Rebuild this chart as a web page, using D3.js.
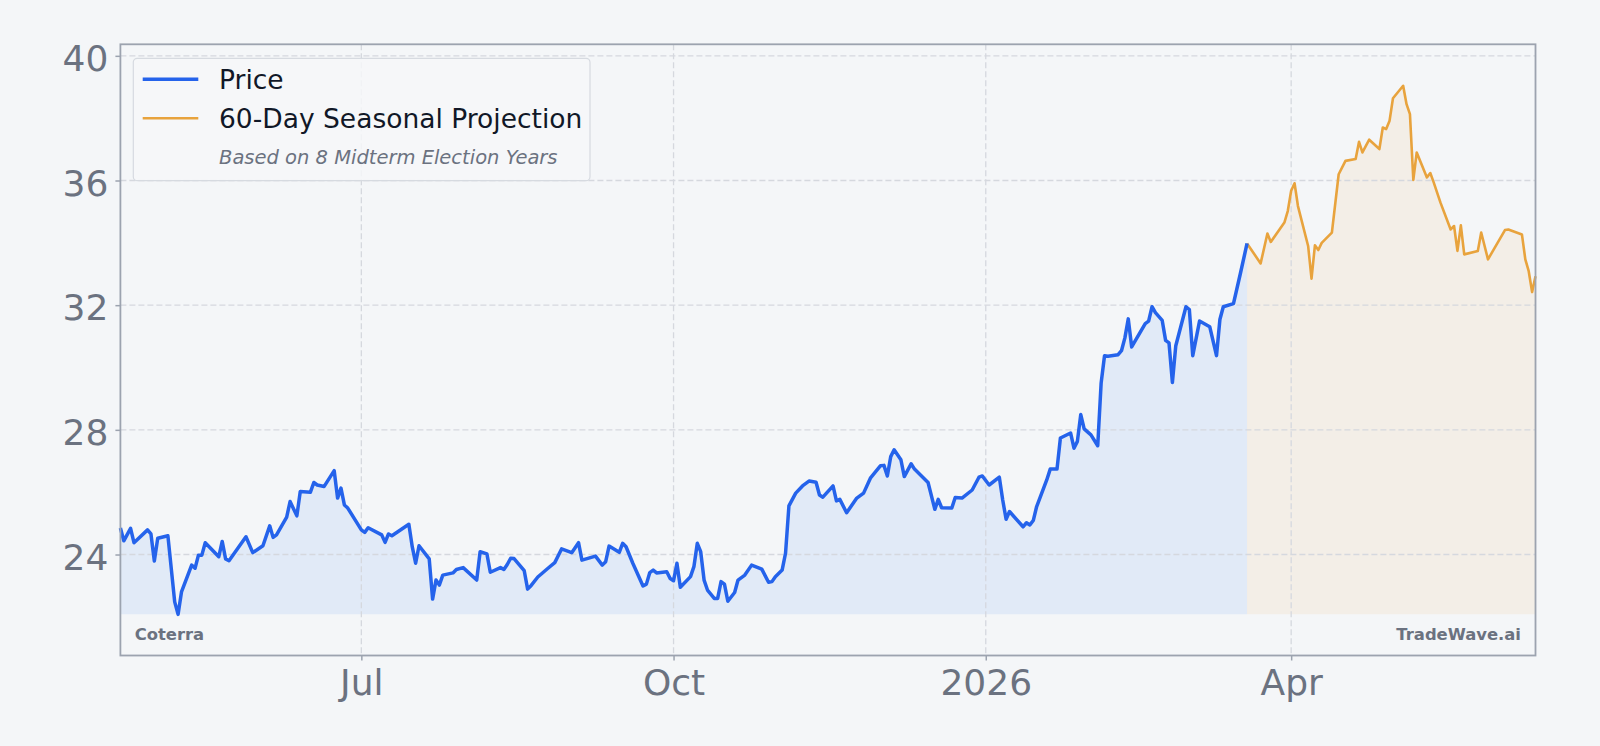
<!DOCTYPE html>
<html><head><meta charset="utf-8">
<script src="https://cdn.jsdelivr.net/npm/d3@7"></script>
<style>
html,body{margin:0;padding:0;background:#f4f6f8;}
svg{display:block;font-family:"DejaVu Sans",sans-serif;}
</style>
</head><body>
<svg id="chart" width="1600" height="746"></svg>
<script>
// ---------- DATA ----------
const priceDates = [
"2025-04-21","2025-04-22","2025-04-24","2025-04-25","2025-04-29","2025-04-30","2025-05-01","2025-05-02","2025-05-05","2025-05-07",
"2025-05-08","2025-05-09","2025-05-12","2025-05-13","2025-05-14","2025-05-15","2025-05-16","2025-05-20","2025-05-21","2025-05-22",
"2025-05-23","2025-05-28","2025-05-30","2025-06-02","2025-06-04","2025-06-05","2025-06-06","2025-06-09","2025-06-10","2025-06-12",
"2025-06-13","2025-06-16","2025-06-17","2025-06-18","2025-06-20","2025-06-23","2025-06-24","2025-06-25","2025-06-26","2025-06-27",
"2025-07-01","2025-07-02","2025-07-03","2025-07-07","2025-07-08","2025-07-09","2025-07-10","2025-07-15","2025-07-16","2025-07-17",
"2025-07-18","2025-07-21","2025-07-22","2025-07-23","2025-07-24","2025-07-25","2025-07-28","2025-07-29","2025-07-31","2025-08-04",
"2025-08-05","2025-08-07","2025-08-08","2025-08-11","2025-08-12","2025-08-13","2025-08-14","2025-08-15","2025-08-18","2025-08-19",
"2025-08-20","2025-08-22","2025-08-25","2025-08-27","2025-08-29","2025-09-01","2025-09-03","2025-09-04","2025-09-08","2025-09-10",
"2025-09-11","2025-09-12","2025-09-15","2025-09-16","2025-09-17","2025-09-19","2025-09-22","2025-09-23","2025-09-24","2025-09-25",
"2025-09-26","2025-09-29","2025-09-30","2025-10-01","2025-10-02","2025-10-03","2025-10-06","2025-10-07","2025-10-08","2025-10-09",
"2025-10-10","2025-10-11","2025-10-13","2025-10-14","2025-10-15","2025-10-16","2025-10-17","2025-10-19","2025-10-20","2025-10-22",
"2025-10-24","2025-10-27","2025-10-29","2025-10-30","2025-10-31","2025-11-02","2025-11-03","2025-11-04","2025-11-06","2025-11-08",
"2025-11-10","2025-11-12","2025-11-13","2025-11-14","2025-11-17","2025-11-18","2025-11-19","2025-11-21","2025-11-24","2025-11-26",
"2025-11-28","2025-12-01","2025-12-02","2025-12-03","2025-12-04","2025-12-05","2025-12-07","2025-12-08","2025-12-10","2025-12-11",
"2025-12-15","2025-12-17","2025-12-18","2025-12-19","2025-12-22","2025-12-23","2025-12-25","2025-12-28","2025-12-30","2025-12-31",
"2026-01-02","2026-01-05","2026-01-06","2026-01-07","2026-01-08","2026-01-12","2026-01-13","2026-01-14","2026-01-15","2026-01-16",
"2026-01-19","2026-01-20","2026-01-22","2026-01-23","2026-01-26","2026-01-27","2026-01-28","2026-01-29","2026-01-30","2026-02-01",
"2026-02-03","2026-02-04","2026-02-05","2026-02-06","2026-02-09","2026-02-10","2026-02-11","2026-02-12","2026-02-13","2026-02-17",
"2026-02-18","2026-02-19","2026-02-20","2026-02-22","2026-02-23","2026-02-24","2026-02-25","2026-02-26","2026-03-01","2026-03-02",
"2026-03-03","2026-03-05","2026-03-08","2026-03-10","2026-03-11","2026-03-12","2026-03-15","2026-03-17","2026-03-19"
];
const priceValues = [
24.85,24.44,24.84,24.38,24.79,24.66,23.79,24.52,24.60,22.48,
22.08,22.80,23.66,23.56,23.98,23.98,24.38,23.93,24.42,23.86,
23.80,24.57,24.06,24.28,24.92,24.55,24.63,25.20,25.70,25.24,
26.02,26.00,26.31,26.23,26.18,26.69,25.81,26.13,25.59,25.49,
24.79,24.71,24.86,24.63,24.39,24.66,24.60,24.97,24.25,23.72,
24.28,23.86,22.57,23.18,23.02,23.34,23.41,23.52,23.58,23.18,
24.09,24.02,23.43,23.58,23.52,23.68,23.88,23.87,23.48,22.89,
23.00,23.28,23.56,23.74,24.18,24.06,24.38,23.82,23.95,23.66,
23.77,24.27,24.07,24.36,24.25,23.72,22.99,23.05,23.42,23.50,
23.41,23.45,23.23,23.16,23.72,22.95,23.29,23.61,24.36,24.09,
23.18,22.86,22.59,22.59,23.13,23.05,22.50,22.78,23.18,23.34,
23.66,23.53,23.11,23.13,23.29,23.50,24.04,25.56,25.97,26.20,
26.36,26.32,25.91,25.84,26.20,25.72,25.77,25.34,25.81,25.97,
26.45,26.85,26.86,26.52,27.14,27.36,27.04,26.50,26.91,26.74,
26.31,25.45,25.77,25.50,25.49,25.83,25.81,26.07,26.48,26.52,
26.23,26.48,25.75,25.13,25.38,24.89,25.02,24.95,25.09,25.54,
26.40,26.74,26.74,27.74,27.90,27.41,27.63,28.49,28.03,27.84,
27.49,29.50,30.38,30.36,30.41,30.54,30.95,31.56,30.66,31.41,
31.49,31.95,31.76,31.51,30.87,30.79,29.52,30.70,31.95,31.86,
30.38,31.49,31.31,30.38,31.54,31.95,32.05,33.00,33.98
];
const projDates = [
"2026-03-19","2026-03-23","2026-03-25","2026-03-26","2026-03-30","2026-03-31","2026-04-01","2026-04-02","2026-04-03","2026-04-06",
"2026-04-07","2026-04-08","2026-04-09","2026-04-10","2026-04-13","2026-04-15","2026-04-17","2026-04-20","2026-04-21","2026-04-22",
"2026-04-24","2026-04-27","2026-04-28","2026-04-29","2026-04-30","2026-05-01","2026-05-04","2026-05-05","2026-05-06","2026-05-07",
"2026-05-08","2026-05-11","2026-05-12","2026-05-13","2026-05-15","2026-05-18","2026-05-19","2026-05-20","2026-05-21","2026-05-22",
"2026-05-26","2026-05-27","2026-05-29","2026-06-03","2026-06-04","2026-06-08","2026-06-09","2026-06-10","2026-06-11","2026-06-12"
];
const projValues = [
33.98,33.34,34.30,34.03,34.65,35.02,35.67,35.91,35.18,33.90,
32.85,33.92,33.77,34.00,34.33,36.20,36.63,36.69,37.24,36.90,
37.31,37.01,37.70,37.65,37.92,38.64,39.04,38.45,38.13,36.02,
36.90,36.10,36.24,35.94,35.29,34.43,34.54,33.74,34.56,33.63,
33.74,34.33,33.47,34.41,34.43,34.27,33.47,33.09,32.42,32.93
];
const yTicks = [24, 28, 32, 36, 40];
const yDomain = [20.76, 40.37];
const xTickDates = ["2025-07-01", "2025-10-01", "2026-01-01", "2026-04-01"];
const xTickLabels = ["Jul", "Oct", "2026", "Apr"];
const seriesNames = ["Price", "60-Day Seasonal Projection"];
const legendNote = "Based on 8 Midterm Election Years";
const tickerName = "Coterra";
const brandName = "TradeWave.ai";

// ---------- LAYOUT ----------
const M = {left: 120.4, right: 1535.5, top: 44.3, bottom: 655.5};
const COL = {bg: "#f4f6f8", blue: "#2563eb", blueFill: "#3b82f6", orange: "#e8a33d", grid: "#d5d8de",
             spine: "#9ca3af", tick: "#6b7280", text: "#111827"};

const parse = d3.utcParse("%Y-%m-%d");
const price = priceDates.map((d, i) => ({date: parse(d), value: priceValues[i]}));
const proj = projDates.map((d, i) => ({date: parse(d), value: projValues[i]}));

const x = d3.scaleUtc()
  .domain([price[0].date, proj[proj.length - 1].date])
  .range([M.left, M.right]);
const y = d3.scaleLinear().domain(yDomain).range([M.bottom, M.top]);
const base = d3.min(priceValues);

const svg = d3.select("#chart");
svg.append("rect").attr("width", 1600).attr("height", 746).attr("fill", COL.bg);

// fills
const area = d3.area().x(d => x(d.date)).y0(y(base)).y1(d => y(d.value));
svg.append("path").datum(price).attr("d", area).attr("fill", COL.blueFill).attr("fill-opacity", 0.1);
svg.append("path").datum(proj).attr("d", area).attr("fill", COL.orange).attr("fill-opacity", 0.09);

// grid
const grid = svg.append("g");
grid.selectAll("line.h").data(yTicks).join("line")
  .attr("x1", M.left).attr("x2", M.right)
  .attr("y1", d => y(d)).attr("y2", d => y(d))
  .attr("stroke", COL.grid).attr("stroke-width", 1.3).attr("stroke-dasharray", "6,3");
grid.selectAll("line.v").data(xTickDates.map(parse)).join("line")
  .attr("x1", d => x(d)).attr("x2", d => x(d))
  .attr("y1", M.top).attr("y2", M.bottom)
  .attr("stroke", COL.grid).attr("stroke-width", 1.3).attr("stroke-dasharray", "6,3");

// lines
const line = d3.line().x(d => x(d.date)).y(d => y(d.value));
svg.append("path").datum(proj).attr("d", line).attr("fill", "none")
  .attr("stroke", COL.orange).attr("stroke-width", 2.6).attr("stroke-linejoin", "round");
svg.append("path").datum(price).attr("d", line).attr("fill", "none")
  .attr("stroke", COL.blue).attr("stroke-width", 3.5).attr("stroke-linejoin", "round");

// frame
svg.append("rect").attr("x", M.left).attr("y", M.top)
  .attr("width", M.right - M.left).attr("height", M.bottom - M.top)
  .attr("fill", "none").attr("stroke", COL.spine).attr("stroke-width", 1.8);

// axes
const xAxis = d3.axisBottom(x).tickValues(xTickDates.map(parse))
  .tickFormat((d, i) => xTickLabels[i]).tickSize(5).tickPadding(9);
const gx = svg.append("g").attr("transform", `translate(0,${M.bottom})`).call(xAxis);
const yAxis = d3.axisLeft(y).tickValues(yTicks).tickFormat(d3.format("d")).tickSize(5).tickPadding(7);
const gy = svg.append("g").attr("transform", `translate(${M.left},0)`).call(yAxis);
[gx, gy].forEach(g => {
  g.select(".domain").remove();
  g.selectAll(".tick line").attr("stroke", COL.spine).attr("stroke-width", 1.5);
  g.selectAll(".tick text").attr("fill", COL.tick).attr("font-size", 36)
    .attr("font-family", "DejaVu Sans, sans-serif");
});
gy.selectAll(".tick text").attr("dy", "0.41em");

// watermark texts
svg.append("text").attr("x", 134.7).attr("y", 639.5).text(tickerName)
  .attr("font-size", 16.4).attr("font-weight", "bold").attr("fill", COL.tick);
svg.append("text").attr("x", 1521).attr("y", 639.5).attr("text-anchor", "end").text(brandName)
  .attr("font-size", 16.4).attr("font-weight", "bold").attr("fill", COL.tick);

// legend
const lg = svg.append("g");
lg.append("rect").attr("x", 133.3).attr("y", 58.3).attr("width", 456.7).attr("height", 122.4)
  .attr("rx", 4).attr("fill", "#f6f7f9").attr("fill-opacity", 0.85)
  .attr("stroke", "#d6dae0").attr("stroke-width", 1.2);
const items = [
  {name: seriesNames[0], color: COL.blue, w: 3.5, yy: 79.3},
  {name: seriesNames[1], color: COL.orange, w: 2.6, yy: 118.3}
];
items.forEach(it => {
  lg.append("line").attr("x1", 142.7).attr("x2", 198.3).attr("y1", it.yy).attr("y2", it.yy)
    .attr("stroke", it.color).attr("stroke-width", it.w);
  lg.append("text").attr("x", 219).attr("y", it.yy).attr("dy", "0.36em").text(it.name)
    .attr("font-size", 26.5).attr("fill", COL.text);
});
lg.append("text").attr("x", 219).attr("y", 164.3).text(legendNote)
  .attr("font-size", 19.5).attr("font-style", "italic").attr("fill", COL.tick);
</script>
</body></html>
